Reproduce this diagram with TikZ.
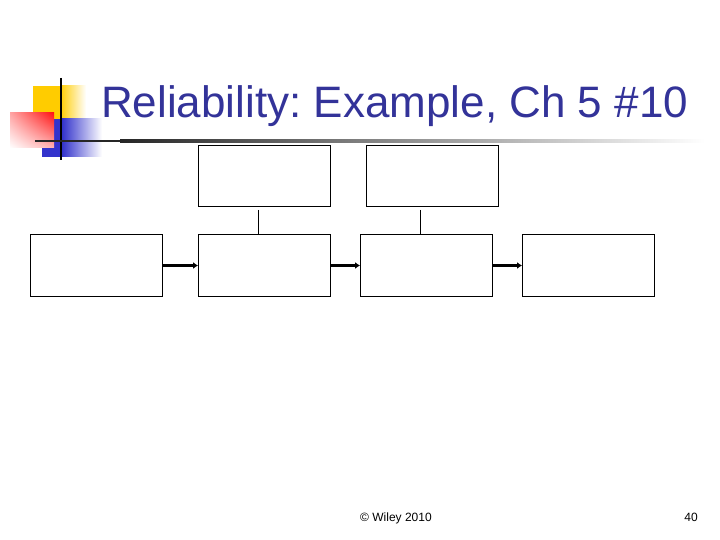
\documentclass[tikz,border=0pt]{standalone}
\usepackage{fontspec}
\setmainfont{Liberation Sans}
\usetikzlibrary{arrows.meta,shadings}
\definecolor{titleblue}{RGB}{51,51,153}
\definecolor{logoyellow}{RGB}{255,204,0}
\definecolor{logoblue}{RGB}{51,51,204}
\definecolor{logored}{RGB}{255,20,20}
\begin{document}
\frenchspacing
\begin{tikzpicture}[x=1pt,y=-1pt,
  blk/.style={draw=black,line width=1pt,fill=white},
  conn/.style={line width=2.2pt,-{Latex[length=5pt,width=7pt]}},
  stem/.style={line width=0.8pt}]
\useasboundingbox (0,0) rectangle (720,540);
\fill[white] (0,0) rectangle (720,540);
% logo
\fill[logoyellow] (33,86) rectangle (60,119);
\shade[left color=logoyellow,right color=white] (60,86) rectangle (86,119);
\fill[logoblue] (42,119) rectangle (62,157);
\shade[left color=logoblue,right color=white] (62,119) rectangle (102,157);
\shade[upper right=logored,upper left=red!35,lower right=red!30,lower left=white] (10,113) rectangle (54,148);
\draw[line width=2.2pt] (61,78) -- (61,160);
% title rule
\fill[black!85] (35,139.6) rectangle (120,142.4);
\shade[left color=black!85,right color=white] (120,139.6) rectangle (705,142.4);
\node[anchor=base west,text=titleblue,font=\fontsize{44}{49}\selectfont,inner sep=0pt] (title) at (101,118) {Reliability: Example, Ch 5 \#10};
% boxes
\node[blk,minimum width=132pt,minimum height=61pt,inner sep=0pt,anchor=north west] (t1) at (198,145) {};
\node[blk,minimum width=132pt,minimum height=61pt,inner sep=0pt,anchor=north west] (t2) at (366,145) {};
\node[blk,minimum width=132pt,minimum height=62pt,inner sep=0pt,anchor=north west] (a) at (30,234) {};
\node[blk,minimum width=132pt,minimum height=62pt,inner sep=0pt,anchor=north west] (b) at (198,234) {};
\node[blk,minimum width=132pt,minimum height=62pt,inner sep=0pt,anchor=north west] (c) at (360,234) {};
\node[blk,minimum width=132pt,minimum height=62pt,inner sep=0pt,anchor=north west] (d) at (522,234) {};
\coordinate (s1) at (258,210);
\coordinate (s2) at (420,210);
\draw[stem] (s1) -- (s1 |- b.north);
\draw[stem] (s2) -- (s2 |- c.north);
\draw[conn] (a.east) -- (b.west);
\draw[conn] (b.east) -- (c.west);
\draw[conn] (c.east) -- (d.west);
% footer
\node[anchor=base west,font=\fontsize{12}{14}\selectfont,inner sep=0pt] (foot) at (360,521) {© Wiley 2010};
\node[anchor=base east,font=\fontsize{12}{14}\selectfont,inner sep=0pt] (page) at (698,521) {40};
\end{tikzpicture}
\end{document}
